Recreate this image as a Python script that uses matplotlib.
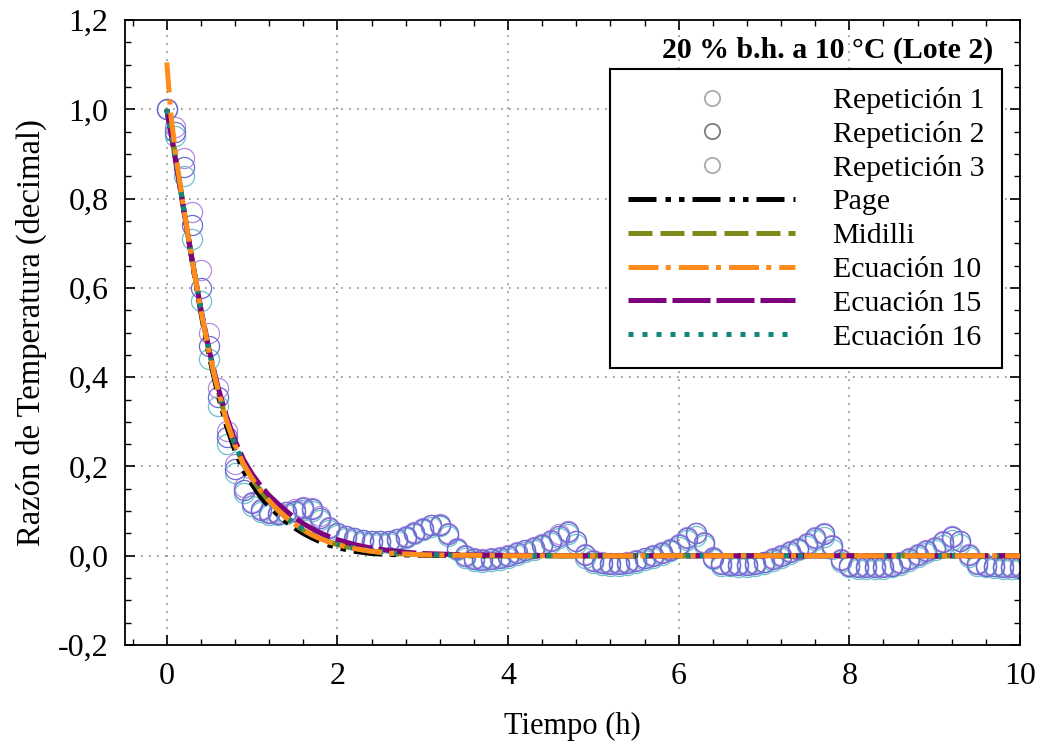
import matplotlib
matplotlib.use("Agg")
import matplotlib.pyplot as plt
from matplotlib.lines import Line2D
from matplotlib.ticker import MultipleLocator, FuncFormatter

plt.rcParams.update({
    "font.family": ["Liberation Serif", "DejaVu Serif"],
    "font.size": 21,
    "xtick.direction": "in",
    "ytick.direction": "in",
    "xtick.top": True,
    "ytick.right": True,
})

# measured temperature ratio, three repetitions (t every 0.1 h)
tiempo = [
    0.0, 0.1, 0.2, 0.3, 0.4, 0.5, 0.6, 0.7, 0.8, 0.9,
    1.0, 1.1, 1.2, 1.3, 1.4, 1.5, 1.6, 1.7, 1.8, 1.9,
    2.0, 2.1, 2.2, 2.3, 2.4, 2.5, 2.6, 2.7, 2.8, 2.9,
    3.0, 3.1, 3.2, 3.3, 3.4, 3.5, 3.6, 3.7, 3.8, 3.9,
    4.0, 4.1, 4.2, 4.3, 4.4, 4.5, 4.6, 4.7, 4.8, 4.9,
    5.0, 5.1, 5.2, 5.3, 5.4, 5.5, 5.6, 5.7, 5.8, 5.9,
    6.0, 6.1, 6.2, 6.3, 6.4, 6.5, 6.6, 6.7, 6.8, 6.9,
    7.0, 7.1, 7.2, 7.3, 7.4, 7.5, 7.6, 7.7, 7.8, 7.9,
    8.0, 8.1, 8.2, 8.3, 8.4, 8.5, 8.6, 8.7, 8.8, 8.9,
    9.0, 9.1, 9.2, 9.3, 9.4, 9.5, 9.6, 9.7, 9.8, 9.9,
    10.0,
]
rep1 = [
    1.000, 0.950, 0.870, 0.740, 0.600, 0.470, 0.355, 0.265, 0.195, 0.148,
    0.118, 0.102, 0.096, 0.094, 0.097, 0.101, 0.106, 0.104, 0.085, 0.062,
    0.050, 0.044, 0.039, 0.035, 0.033, 0.032, 0.033, 0.037, 0.043, 0.051,
    0.060, 0.068, 0.070, 0.048, 0.016, 0.000, -0.008, -0.010, -0.008, -0.005,
    0.000, 0.006, 0.012, 0.018, 0.025, 0.033, 0.045, 0.054, 0.032, 0.002,
    -0.012, -0.016, -0.018, -0.018, -0.016, -0.012, -0.006, 0.000, 0.006, 0.014,
    0.024, 0.040, 0.050, 0.028, -0.004, -0.018, -0.020, -0.021, -0.021, -0.019,
    -0.015, -0.008, 0.000, 0.008, 0.016, 0.026, 0.040, 0.048, 0.022, -0.010,
    -0.022, -0.025, -0.026, -0.026, -0.025, -0.022, -0.016, -0.008, 0.002, 0.010,
    0.018, 0.030, 0.042, 0.032, 0.002, -0.018, -0.022, -0.024, -0.025, -0.025,
    -0.025,
]
rep2 = [
    1.000, 0.960, 0.890, 0.770, 0.640, 0.500, 0.375, 0.280, 0.205, 0.155,
    0.120, 0.104, 0.097, 0.096, 0.099, 0.104, 0.110, 0.107, 0.088, 0.064,
    0.052, 0.045, 0.040, 0.036, 0.034, 0.033, 0.034, 0.038, 0.045, 0.053,
    0.062, 0.070, 0.072, 0.050, 0.018, 0.002, -0.006, -0.008, -0.006, -0.003,
    0.002, 0.008, 0.014, 0.020, 0.027, 0.036, 0.048, 0.056, 0.034, 0.004,
    -0.010, -0.014, -0.016, -0.016, -0.014, -0.010, -0.004, 0.002, 0.008, 0.016,
    0.027, 0.043, 0.052, 0.030, -0.002, -0.016, -0.018, -0.019, -0.019, -0.017,
    -0.013, -0.006, 0.002, 0.010, 0.018, 0.028, 0.042, 0.050, 0.024, -0.008,
    -0.020, -0.023, -0.024, -0.024, -0.023, -0.020, -0.014, -0.006, 0.004, 0.012,
    0.020, 0.032, 0.044, 0.034, 0.004, -0.016, -0.020, -0.022, -0.023, -0.023,
    -0.023,
]
rep3 = [
    1.000, 0.940, 0.850, 0.710, 0.570, 0.440, 0.335, 0.250, 0.185, 0.140,
    0.112, 0.098, 0.092, 0.091, 0.094, 0.098, 0.102, 0.100, 0.080, 0.058,
    0.046, 0.040, 0.035, 0.031, 0.029, 0.028, 0.029, 0.033, 0.040, 0.048,
    0.057, 0.064, 0.066, 0.044, 0.012, -0.004, -0.012, -0.014, -0.012, -0.009,
    -0.004, 0.002, 0.008, 0.014, 0.021, 0.029, 0.040, 0.049, 0.027, -0.004,
    -0.016, -0.020, -0.022, -0.022, -0.020, -0.016, -0.010, -0.004, 0.002, 0.010,
    0.020, 0.035, 0.044, 0.023, -0.008, -0.022, -0.024, -0.025, -0.025, -0.023,
    -0.019, -0.012, -0.004, 0.004, 0.012, 0.022, 0.035, 0.042, 0.016, -0.015,
    -0.026, -0.029, -0.030, -0.030, -0.029, -0.026, -0.020, -0.012, -0.002, 0.006,
    0.014, 0.025, 0.036, 0.026, -0.003, -0.022, -0.026, -0.028, -0.029, -0.029,
    -0.029,
]

# fitted models
t_mod = [0.0, 0.05, 0.1, 0.15, 0.2, 0.25, 0.3, 0.4, 0.5, 0.6, 0.7, 0.8, 0.9,
         1.0, 1.1, 1.2, 1.3, 1.4, 1.5, 1.6, 1.7, 1.8, 1.9, 2.0, 2.2, 2.4,
         2.6, 2.8, 3.0, 3.5, 4.0, 5.0, 6.0, 8.0, 10.0]
page = [1.000, 0.950, 0.895, 0.836, 0.776, 0.716, 0.656, 0.544, 0.445, 0.361,
        0.291, 0.235, 0.190, 0.160, 0.132, 0.110, 0.092, 0.076, 0.062, 0.050,
        0.040, 0.031, 0.024, 0.018, 0.010, 0.005, 0.003, 0.002, 0.001, 0.000,
        0.000, 0.000, 0.000, 0.000, 0.000]
midilli = [1.000, 0.948, 0.893, 0.835, 0.776, 0.718, 0.660, 0.550, 0.452, 0.370,
           0.302, 0.247, 0.204, 0.172, 0.145, 0.122, 0.102, 0.085, 0.070, 0.057,
           0.047, 0.038, 0.031, 0.025, 0.016, 0.010, 0.006, 0.004, 0.002, 0.001,
           0.000, 0.000, 0.000, 0.000, 0.000]
ec10 = [1.105, 0.985, 0.905, 0.840, 0.778, 0.718, 0.659, 0.550, 0.453, 0.371,
        0.303, 0.248, 0.205, 0.173, 0.146, 0.123, 0.103, 0.086, 0.071, 0.058,
        0.047, 0.038, 0.031, 0.025, 0.016, 0.010, 0.006, 0.004, 0.002, 0.001,
        0.000, 0.000, 0.000, 0.000, 0.000]
ec15 = [1.000, 0.945, 0.888, 0.830, 0.772, 0.715, 0.660, 0.553, 0.458, 0.378,
        0.312, 0.258, 0.215, 0.183, 0.157, 0.135, 0.117, 0.100, 0.085, 0.072,
        0.061, 0.051, 0.043, 0.036, 0.025, 0.017, 0.012, 0.008, 0.005, 0.002,
        0.001, 0.000, 0.000, 0.000, 0.000]
ec16 = [1.000, 0.946, 0.890, 0.833, 0.775, 0.718, 0.661, 0.552, 0.454, 0.372,
        0.304, 0.249, 0.206, 0.174, 0.147, 0.124, 0.104, 0.087, 0.072, 0.059,
        0.048, 0.039, 0.032, 0.026, 0.017, 0.011, 0.007, 0.004, 0.003, 0.001,
        0.000, 0.000, 0.000, 0.000, 0.000]

fig = plt.figure(figsize=(10.38, 7.51), dpi=100)
ax = fig.add_axes([0.1204, 0.1411, 0.8622, 0.8322])

ms = 14.5
ax.plot(tiempo, rep3, "o", ms=ms, mfc="none", mec="#6fc0cc", mew=0.9, zorder=2)
ax.plot(tiempo, rep2, "o", ms=ms, mfc="none", mec="#b68ae0", mew=0.9, zorder=2)
ax.plot(tiempo, rep1, "o", ms=ms, mfc="none", mec="#6b6bd2", mew=0.9, zorder=2)

lw = 3.6
ls_page = (0, (5.6, 1.8, 1.1, 1.6, 1.1, 1.6))
ls_mid = (0, (4.8, 1.6))
ls_e10 = (0, (6.0, 1.45, 1.0, 1.6))
ls_e15 = (0, (7.6, 1.2))
ls_e16 = (0, (1.0, 1.8))
ax.plot(t_mod, page, color="black", lw=lw, ls=ls_page, zorder=3)
ax.plot(t_mod, midilli, color="#7d8a18", lw=lw, ls=ls_mid, zorder=3)
ax.plot(t_mod, ec15, color="#800080", lw=lw, ls=ls_e15, zorder=3)
ax.plot(t_mod, ec16, color="#12877a", lw=lw, ls=ls_e16, zorder=3)
ax.plot(t_mod, ec10, color="#ff8c1a", lw=lw, ls=ls_e10, zorder=4)

ax.set_xlim(-0.49, 10)
ax.set_ylim(-0.2, 1.2)
ax.xaxis.set_major_locator(MultipleLocator(2))
ax.xaxis.set_minor_locator(MultipleLocator(0.4))
ax.yaxis.set_major_locator(MultipleLocator(0.2))
ax.yaxis.set_minor_locator(MultipleLocator(0.05))
ax.yaxis.set_major_formatter(FuncFormatter(lambda v, p: ("%.1f" % v).replace(".", ",")))
ax.tick_params(which="major", length=7, width=1.2, pad=12, labelsize=23)
ax.tick_params(which="minor", length=4, width=1.0)
for s in ax.spines.values():
    s.set_linewidth(1.3)
ax.grid(True, which="major", color="#8a8a8a", lw=1.2, ls=(0, (1, 3.8)))
ax.set_axisbelow(True)

ax.set_xlabel("Tiempo (h)", labelpad=15, fontsize=22)
ax.set_ylabel("Razón de Temperatura (decimal)", labelpad=8, fontsize=23.5)

ax.text(0.970, 0.952, "20 % b.h. a 10 °C (Lote 2)", transform=ax.transAxes,
        ha="right", va="center", fontweight="bold", fontsize=21.5)

handles = [
    Line2D([], [], ls="none", marker="o", ms=11, mfc="none", mec="#aaaaaa", mew=1.3),
    Line2D([], [], ls="none", marker="o", ms=11, mfc="none", mec="#7a7a7a", mew=1.3),
    Line2D([], [], ls="none", marker="o", ms=11, mfc="none", mec="#aaaaaa", mew=1.3),
    Line2D([], [], color="black", lw=lw, ls=ls_page),
    Line2D([], [], color="#7d8a18", lw=lw, ls=ls_mid),
    Line2D([], [], color="#ff8c1a", lw=lw, ls=ls_e10),
    Line2D([], [], color="#800080", lw=lw, ls=ls_e15),
    Line2D([], [], color="#12877a", lw=lw, ls=ls_e16),
]
labels = ["Repetición 1", "Repetición 2", "Repetición 3", "Page", "Midilli",
          "Ecuación 10", "Ecuación 15", "Ecuación 16"]
leg = ax.legend(handles, labels, loc="upper right", bbox_to_anchor=(0.980, 0.9216),
                borderaxespad=0, fancybox=False, framealpha=1, edgecolor="black",
                handlelength=5.6, handletextpad=1.25, labelspacing=0.23,
                borderpad=0.6, fontsize=21.5)
leg.get_frame().set_linewidth(1.5)

fig.savefig("out.png", dpi=100)
